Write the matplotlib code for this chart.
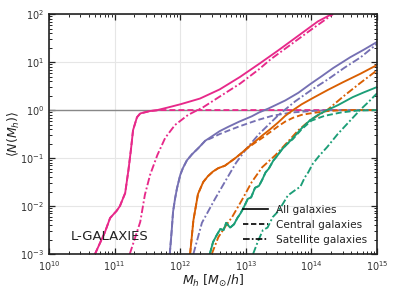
import numpy as np
import matplotlib
matplotlib.use("Agg")
import matplotlib.pyplot as plt
from matplotlib.lines import Line2D

# log10 halo mass / log10 <N>, one pair per curve
PINK_ALL_M = [10.70, 10.85, 10.93, 11.03, 11.08, 11.16, 11.21, 11.25, 11.28, 11.34, 11.39, 11.54, 11.65,
              11.8, 12.0, 12.3, 12.6, 12.91, 13.22, 13.5, 13.8, 14.1, 14.31]
PINK_ALL_N = [-3.0, -2.55, -2.25, -2.1, -2.0, -1.73, -1.25, -0.8, -0.42, -0.15, -0.07, -0.02, 0.0,
              0.05, 0.12, 0.24, 0.43, 0.69, 0.98, 1.25, 1.55, 1.85, 2.0]
PINK_CEN_M = [10.70, 10.85, 10.93, 11.03, 11.08, 11.16, 11.21, 11.25, 11.28, 11.34, 11.39, 11.54, 11.7, 15.0]
PINK_CEN_N = [-3.0, -2.55, -2.25, -2.1, -2.0, -1.73, -1.25, -0.8, -0.42, -0.15, -0.07, -0.02, 0.0, 0.0]
PINK_SAT_M = [11.23, 11.39, 11.46, 11.54, 11.65, 11.77, 11.92, 12.12, 12.35, 12.6, 12.91, 13.2, 13.37,
              13.67, 14.0, 14.33]
PINK_SAT_N = [-3.0, -2.33, -1.77, -1.35, -0.94, -0.58, -0.31, -0.1, 0.06, 0.28, 0.55, 0.85, 1.05,
              1.35, 1.68, 2.0]

PURP_ALL_M = [11.84, 11.87, 11.89, 11.92, 11.95, 12.0, 12.04, 12.1, 12.18, 12.27, 12.38, 12.48, 12.6,
              12.73, 12.9, 13.09, 13.2, 13.34, 13.6, 13.8, 13.98, 14.15, 14.33, 14.59, 14.8, 15.0]
PURP_ALL_N = [-3.0, -2.5, -2.12, -1.85, -1.63, -1.35, -1.21, -1.05, -0.92, -0.8, -0.64, -0.55, -0.44,
              -0.35, -0.24, -0.13, -0.05, 0.03, 0.2, 0.36, 0.54, 0.7, 0.875, 1.10, 1.26, 1.42]
PURP_CEN_M = [11.84, 11.87, 11.89, 11.92, 11.95, 12.0, 12.04, 12.1, 12.18, 12.27, 12.38, 12.48, 12.6,
              12.73, 12.9, 13.09, 13.2, 13.4, 13.7, 14.0, 14.3, 15.0]
PURP_CEN_N = [-3.0, -2.5, -2.12, -1.85, -1.63, -1.35, -1.21, -1.05, -0.92, -0.8, -0.64, -0.58, -0.5,
              -0.43, -0.34, -0.25, -0.2, -0.12, -0.05, -0.02, 0.0, 0.0]
PURP_SAT_M = [12.2, 12.33, 12.53, 12.7, 12.85, 13.0, 13.2, 13.5, 13.75, 14.0, 14.25, 14.5, 14.75, 15.0]
PURP_SAT_N = [-3.0, -2.35, -1.85, -1.45, -1.1, -0.82, -0.5, -0.1, 0.18, 0.42, 0.64, 0.88, 1.1, 1.38]

ORAN_ALL_M = [12.15, 12.20, 12.27, 12.35, 12.42, 12.5, 12.58, 12.68, 12.76, 12.84, 12.93, 13.02, 13.12,
              13.25, 13.37, 13.49, 13.6, 13.72, 13.85, 14.02, 14.25, 14.48, 14.75, 15.0]
ORAN_ALL_N = [-3.0, -2.3, -1.75, -1.5, -1.38, -1.28, -1.21, -1.16, -1.08, -1.0, -0.9, -0.79, -0.68,
              -0.53, -0.4, -0.26, -0.12, 0.0, 0.12, 0.25, 0.42, 0.58, 0.76, 0.94]
ORAN_CEN_M = [12.15, 12.20, 12.27, 12.35, 12.42, 12.5, 12.58, 12.68, 12.76, 12.84, 12.93, 13.02, 13.12,
              13.25, 13.37, 13.49, 13.6, 13.72, 13.85, 14.02, 14.25, 14.5, 15.0]
ORAN_CEN_N = [-3.0, -2.3, -1.75, -1.5, -1.38, -1.28, -1.21, -1.16, -1.08, -1.0, -0.9, -0.8, -0.7,
              -0.58, -0.46, -0.34, -0.24, -0.16, -0.1, -0.06, -0.02, 0.0, 0.0]
ORAN_SAT_M = [12.48, 12.58, 12.7, 12.79, 12.94, 13.09, 13.25, 13.45, 13.64, 13.8, 13.98, 14.24, 14.5,
              14.74, 15.0]
ORAN_SAT_N = [-3.0, -2.65, -2.4, -2.23, -1.875, -1.5, -1.19, -0.94, -0.66, -0.42, -0.21, 0.0, 0.3,
              0.56, 0.83]

GREEN_ALL_M = [12.45, 12.50, 12.55, 12.61, 12.66, 12.70, 12.76, 12.82, 12.87, 12.92, 12.97, 13.03, 13.08,
               13.14, 13.20, 13.25, 13.30, 13.35, 13.42, 13.48, 13.55, 13.62, 13.72, 13.85, 13.98, 14.1,
               14.24, 14.4, 14.63, 14.8, 15.0]
GREEN_ALL_N = [-3.0, -2.75, -2.62, -2.48, -2.5, -2.35, -2.45, -2.38, -2.25, -2.15, -2.02, -1.85, -1.82,
               -1.62, -1.58, -1.45, -1.3, -1.22, -1.05, -0.95, -0.82, -0.72, -0.58, -0.38, -0.21, -0.1,
               0.0, 0.1, 0.27, 0.37, 0.48]
GREEN_CEN_M = [12.45, 12.50, 12.55, 12.61, 12.66, 12.70, 12.76, 12.82, 12.87, 12.92, 12.97, 13.03, 13.08,
               13.14, 13.20, 13.25, 13.30, 13.35, 13.42, 13.48, 13.55, 13.62, 13.72, 13.85, 14.0, 14.2,
               14.45, 14.7, 15.0]
GREEN_CEN_N = [-3.0, -2.75, -2.62, -2.48, -2.5, -2.35, -2.45, -2.38, -2.25, -2.15, -2.02, -1.85, -1.82,
               -1.62, -1.58, -1.45, -1.3, -1.22, -1.05, -0.95, -0.82, -0.72, -0.6, -0.4, -0.22, -0.12,
               -0.05, -0.01, 0.0]
GREEN_SAT_M = [13.11, 13.18, 13.26, 13.33, 13.41, 13.5, 13.57, 13.64, 13.70, 13.77, 13.83, 13.9, 13.95,
               14.02, 14.12, 14.24, 14.4, 14.59, 14.74, 14.87, 15.0]
GREEN_SAT_N = [-3.0, -2.75, -2.5, -2.45, -2.23, -2.1, -1.94, -1.78, -1.72, -1.65, -1.6, -1.4, -1.3,
               -1.12, -0.95, -0.77, -0.5, -0.22, 0.0, 0.17, 0.35]

PINK = "#e7298a"
PURPLE = "#7570b3"
ORANGE = "#d95f02"
GREEN = "#1b9e77"

STYLES = {"all": "-", "cen": (0, (3.2, 1.6)), "sat": (0, (4.0, 1.3, 1.0, 1.3))}


def draw(ax, m, n, color, kind):
    ax.plot(10 ** np.array(m), 10 ** np.array(n), color=color, ls=STYLES[kind], lw=1.35)


fig = plt.figure(figsize=(3.99, 2.94), dpi=100)
ax = fig.add_axes([0.123, 0.136, 0.822, 0.816])

ax.axhline(1.0, color="#888888", lw=1.0, zorder=1)

curves = [
    (PINK, PINK_ALL_M, PINK_ALL_N, PINK_CEN_M, PINK_CEN_N, PINK_SAT_M, PINK_SAT_N),
    (PURPLE, PURP_ALL_M, PURP_ALL_N, PURP_CEN_M, PURP_CEN_N, PURP_SAT_M, PURP_SAT_N),
    (ORANGE, ORAN_ALL_M, ORAN_ALL_N, ORAN_CEN_M, ORAN_CEN_N, ORAN_SAT_M, ORAN_SAT_N),
    (GREEN, GREEN_ALL_M, GREEN_ALL_N, GREEN_CEN_M, GREEN_CEN_N, GREEN_SAT_M, GREEN_SAT_N),
]
for c, am, an, cm, cn, sm, sn in curves:
    draw(ax, am, an, c, "all")
    draw(ax, cm, cn, c, "cen")
    draw(ax, sm, sn, c, "sat")

ax.set_xscale("log")
ax.set_yscale("log")
ax.set_xlim(1e10, 1e15)
ax.set_ylim(1e-3, 1e2)

ax.grid(True, which="major", color="#e6e6e6", lw=0.8)
ax.set_axisbelow(True)
for s in ax.spines.values():
    s.set_color("#222222")
    s.set_linewidth(1.2)
ax.tick_params(which="both", direction="in", top=True, right=True, colors="#222222",
               labelcolor="#333333", labelsize=7)
ax.tick_params(which="major", length=4, width=0.9)
ax.tick_params(which="minor", length=2.2, width=0.7)

ax.set_xlabel(r"$M_h\ [M_{\odot}/h]$", fontsize=9, color="#222222", labelpad=0)
ax.set_ylabel(r"$\langle N(M_h)\rangle$", fontsize=9, color="#222222", labelpad=-1)

ax.text(0.065, 0.075, "L-GALAXIES", transform=ax.transAxes, fontsize=9.5,
        color="#222222", va="center", ha="left")

handles = [Line2D([], [], color="black", ls=STYLES["all"], lw=1.2),
           Line2D([], [], color="black", ls=STYLES["cen"], lw=1.2),
           Line2D([], [], color="black", ls=STYLES["sat"], lw=1.2)]
ax.legend(handles, ["All galaxies", "Central galaxies", "Satellite galaxies"],
          loc="lower right", frameon=False, fontsize=7.6, handlelength=2.4,
          handletextpad=0.8, labelspacing=0.45, labelcolor="#222222")

fig.savefig("out.png", dpi=100)
